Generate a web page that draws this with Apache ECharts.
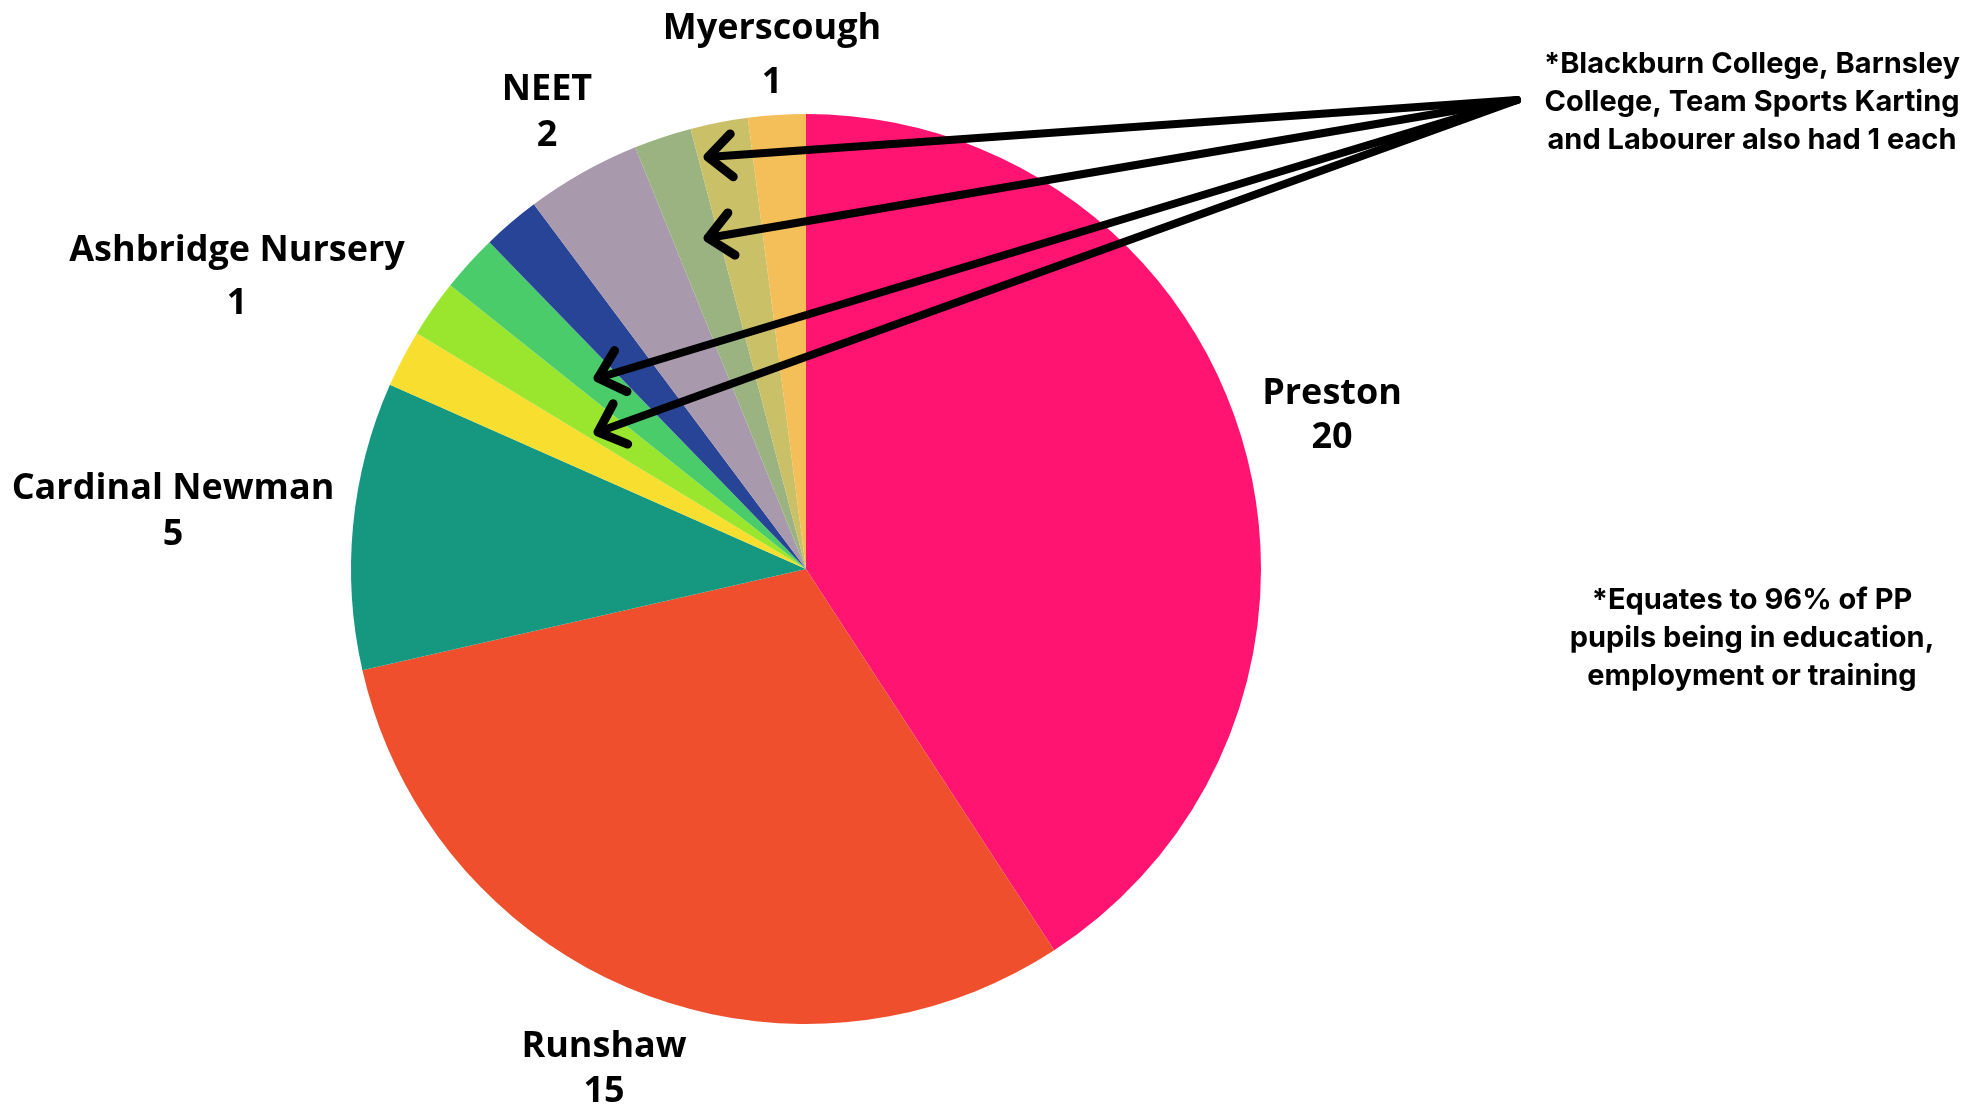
<!DOCTYPE html>
<html>
<head>
<meta charset="utf-8">
<script src="https://cdn.jsdelivr.net/npm/echarts@6/dist/echarts.min.js"></script>
<style>
html,body{margin:0;padding:0;background:#fff;}
#chart{width:1981px;height:1106px;}
</style>
</head>
<body>
<div id="chart"></div>
<script>
// ---- data ----
const categories = ['Preston','Runshaw','Cardinal Newman','Ashbridge Nursery','Labourer','Team Sports Karting','Other','NEET','Barnsley College','Blackburn College','Myerscough'];
const values = [20,15,5,1,1,1,1,2,1,1,1];
const colors = ['#FF1472','#EF4F2D','#169880','#F7DE2F','#9AE52D','#4BCC6A','#284496','#A999AC','#9BB380','#CAC068','#F4BE58'];
const labelled = ['Preston','Runshaw','Cardinal Newman','Ashbridge Nursery','NEET','Myerscough'];
const noteTop = ['*Blackburn College, Barnsley','College, Team Sports Karting','and Labourer also had 1 each'];
const noteBottom = ['*Equates to 96% of PP','pupils being in education,','employment or training'];

// ---- layout (positions/styles only) ----
const labelPos = {
  'Preston': [1332, 416, 44],
  'Runshaw': [604, 1069, 45],
  'Cardinal Newman': [173, 512, 46],
  'Ashbridge Nursery': [237, 277, 53],
  'NEET': [547, 113, 46],
  'Myerscough': [772, 56, 54]
};
const arrowStart = [1517, 100];
const arrowTips = [[708,157],[708,238],[598,378],[598,432]];

const chart = echarts.init(document.getElementById('chart'), null, {renderer:'canvas'});

const data = categories.map((c,i)=>{
  const item = {name:c, value:values[i], itemStyle:{color:colors[i]}};
  if (labelled.includes(c)) {
    item.label = {show:true, lineHeight: labelPos[c][2]};
  } else {
    item.label = {show:false};
  }
  return item;
});

function arrowGraphics(){
  const g = [];
  arrowTips.forEach(t=>{
    g.push({type:'line', shape:{x1:arrowStart[0], y1:arrowStart[1], x2:t[0], y2:t[1]},
      style:{stroke:'#000', lineWidth:8, lineCap:'round'}, z:10});
    const dx = arrowStart[0]-t[0], dy = arrowStart[1]-t[1];
    const len = Math.hypot(dx,dy);
    const ux = dx/len, uy = dy/len;
    const a = 42*Math.PI/180, L = 32;
    const r1 = [ux*Math.cos(a)-uy*Math.sin(a), ux*Math.sin(a)+uy*Math.cos(a)];
    const r2 = [ux*Math.cos(-a)-uy*Math.sin(-a), ux*Math.sin(-a)+uy*Math.cos(-a)];
    g.push({type:'polyline', shape:{points:[[t[0]+r1[0]*L, t[1]+r1[1]*L],[t[0],t[1]],[t[0]+r2[0]*L, t[1]+r2[1]*L]]},
      style:{stroke:'#000', fill:null, lineWidth:9, lineCap:'round', lineJoin:'round'}, z:10});
  });
  return g;
}

const noteFont = 'bold 29px Inter';
const graphics = arrowGraphics().concat([
  {type:'text', x:1752, y:102, style:{text:noteTop.join('\n'), font:noteFont, fill:'#000', align:'center', verticalAlign:'middle', lineHeight:38}, z:11},
  {type:'text', x:1752, y:638, style:{text:noteBottom.join('\n'), font:noteFont, fill:'#000', align:'center', verticalAlign:'middle', lineHeight:38}, z:11}
]);

chart.setOption({
  backgroundColor:'#fff',
  animation:false,
  series:[{
    type:'pie',
    center:[806,569],
    radius:[0,455],
    startAngle:90,
    clockwise:true,
    avoidLabelOverlap:false,
    data:data,
    label:{
      position:'outside',
      formatter:'{b}\n{c}',
      fontFamily:'Open Sans',
      fontWeight:'bold',
      fontSize:36,
      color:'#000'
    },
    labelLine:{show:false},
    labelLayout:function(p){
      const name = categories[p.dataIndex];
      const pos = labelPos[name];
      if(!pos) return {};
      return {x:pos[0], y:pos[1], align:'center', verticalAlign:'middle'};
    },
    emphasis:{disabled:true}
  }],
  graphic:graphics
});
</script>
</body>
</html>
